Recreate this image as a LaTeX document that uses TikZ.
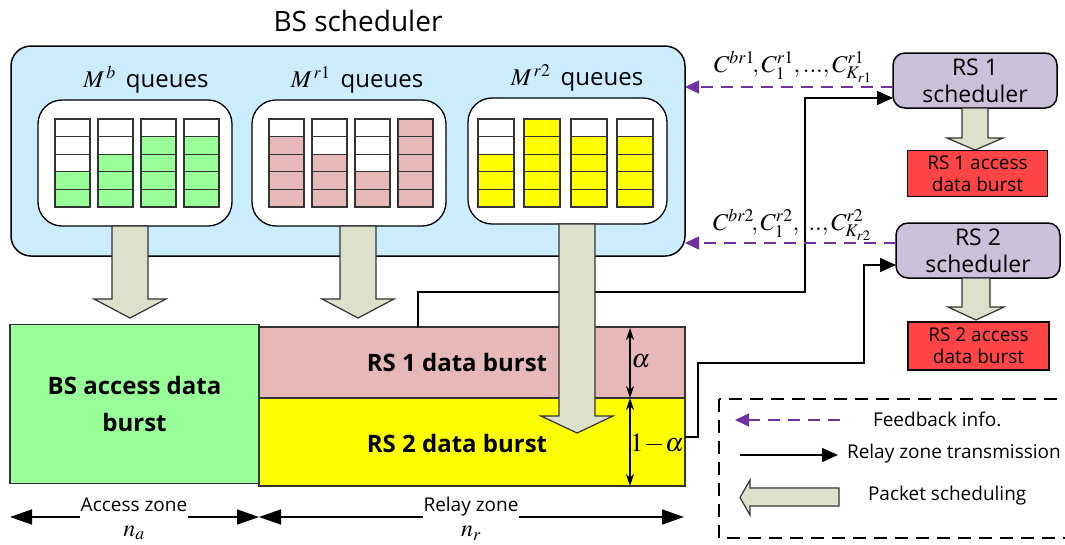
\documentclass[tikz,border=0pt]{standalone}
\usepackage{mathptmx}
\usepackage[no-math]{fontspec}
\setmainfont{Open Sans}
\usetikzlibrary{arrows.meta}
\definecolor{bsblue}{HTML}{CCECFF}
\definecolor{qgreen}{HTML}{99FF99}
\definecolor{qpink}{HTML}{E6B9B8}
\definecolor{qyellow}{HTML}{FFFF00}
\definecolor{lav}{HTML}{CCC1DA}
\definecolor{accred}{HTML}{FF4545}
\definecolor{pktfill}{HTML}{DDE1CB}
\definecolor{fbpurple}{HTML}{7030A0}
\newcommand{\fsz}[2]{\fontsize{#1pt}{#2pt}\selectfont}
\newcommand{\pktdown}[6]{\draw[pkt] ({#1-#2},#4) -- ({#1+#2},#4) -- ({#1+#2},#5) -- ({#1+#3},#5) -- (#1,#6) -- ({#1-#3},#5) -- ({#1-#2},#5) -- cycle;}
\begin{document}
\begin{tikzpicture}[x=1pt,y=-1pt,
  every node/.style={inner sep=0pt, outer sep=0pt},
  cell/.style={draw=black!80, line width=1.2pt},
  grp/.style={draw=black, line width=1.3pt, fill=white, rounded corners=24pt},
  pkt/.style={draw=black!80, line width=1.2pt, fill=pktfill},
  relay/.style={draw=black, line width=1.5pt, -{Triangle[length=16pt,width=14pt]}},
  fb/.style={draw=fbpurple, line width=1.5pt, dash pattern=on 12pt off 8pt, -{Triangle[length=14pt,width=13pt]}},
  burst/.style={draw=black!80, line width=1.3pt},
  sched/.style={draw=black, line width=1.5pt, fill=lav, rounded corners=12pt, minimum width=164pt, minimum height=55pt, align=center, font=\fsz{23}{27}},
  acc/.style={draw=black, line width=1.3pt, fill=accred, minimum width=140pt, minimum height=46pt, align=center, font=\fsz{19}{22}},
  zone/.style={line width=1.5pt, {Triangle[length=22pt,width=15pt]}-{Triangle[length=22pt,width=15pt]}},
  dimarr/.style={line width=1.2pt, {Stealth[length=12pt,width=8pt]}-{Stealth[length=12pt,width=8pt]}},
  lgd/.style={anchor=west, font=\fsz{19}{22}},
  zlab/.style={fill=white, inner xsep=1pt, inner ysep=8pt, anchor=base, font=\fsz{19}{22}},
]
\useasboundingbox (0,0) rectangle (1065,544);
% title and BS box
\node[font=\fsz{28}{32}] (title) at (358,21) {BS scheduler};
\node[draw, fill=bsblue, rounded corners=20pt, line width=1.5pt, minimum width=674pt, minimum height=210pt] (bs) at (348,151) {};
% queue groups
\node[grp, minimum width=194pt, minimum height=126pt] (g1) at (135,163) {};
\node[grp, minimum width=194pt, minimum height=126pt] (g2) at (349,163) {};
\node[grp, minimum width=199pt, minimum height=126pt] (g3) at (567.5,161) {};
\node[font=\fsz{24}{28}] (lb1) at (146,80) {$M^{\,b}$\, queues};
\node[font=\fsz{24}{28}] (lb2) at (357,80) {$M^{\,r1}$\, queues};
\node[font=\fsz{24}{28}] (lb3) at (577,78) {$M^{\,r2}$\, queues};
% queue cells
\foreach \cx/\n in {55/2,98/3,141/4,184/4}{
  \foreach \r in {0,...,4}{
    \ifnum\r<\n \def\cc{qgreen}\else\def\cc{white}\fi
    \draw[cell, fill=\cc] (\cx,{207-\r*17.6}) rectangle ++(35,-17.6);
  }}
\foreach \cx/\n in {269/4,312/3,355/2,398/5}{
  \foreach \r in {0,...,4}{
    \ifnum\r<\n \def\cc{qpink}\else\def\cc{white}\fi
    \draw[cell, fill=\cc] (\cx,{207-\r*17.6}) rectangle ++(35,-17.6);
  }}
\foreach \cx/\n in {478/3,524/5,571/4,617/4}{
  \foreach \r in {0,...,4}{
    \ifnum\r<\n \def\cc{qyellow}\else\def\cc{white}\fi
    \draw[cell, fill=\cc] (\cx,{207-\r*17.6}) rectangle ++(36,-17.6);
  }}
% RS schedulers and access bursts
\node[sched] (rs1) at (975,80.5) {RS 1\\scheduler};
\node[sched] (rs2) at (978,250.5) {RS 2\\scheduler};
\node[acc] (acc1) at (977.5,173.5) {RS 1 access\\data burst};
\node[acc, minimum width=141pt, minimum height=48pt] (acc2) at (978.5,346) {RS 2 access\\data burst};
\pktdown{975}{13}{28}{108}{138}{150}
\pktdown{976}{14}{28}{278}{307}{320}
% frame bursts
\node[burst, fill=qgreen, minimum width=249pt, minimum height=159pt, align=center, font=\bfseries\fsz{24}{37}] (bsacc) at (134.5,404) {BS access data\\burst};
\node[burst, fill=qpink, minimum width=426pt, minimum height=71pt] (rs1b) at (472,362.5) {};
\node[burst, fill=qyellow, minimum width=426pt, minimum height=88pt] (rs2b) at (472,442) {};
\node[font=\bfseries\fsz{24}{28}] (t1) at (457,362) {RS 1 data burst};
\node[font=\bfseries\fsz{24}{28}] (t2) at (457,443) {RS 2 data burst};
% relay lines
\coordinate (r1s) at (418,327);
\coordinate (r1y) at (0,98);
\coordinate (r2s) at (685,437);
\coordinate (r2y) at (0,265);
\draw[relay] (r1s) |- (805,292) |- (rs1.west |- r1y);
\draw[relay] (r2s) -- (698,437) |- (864,363) |- (rs2.west |- r2y);
% feedback
\coordinate (fb1y) at (0,87);
\coordinate (fb2y) at (0,243);
\draw[fb] (rs1.west |- fb1y) -- (bs.east |- fb1y);
\draw[fb] (rs2.west |- fb2y) -- (bs.east |- fb2y);
\node[anchor=base, font=\fsz{24}{28}] (c1) at (793,72) {$C^{br1}\!, C_1^{r1}, ..., C_{K_{r1}}^{r1}$};
\node[anchor=base, font=\fsz{24}{28}] (c2) at (792,230) {$C^{br2}\!, C_1^{r2}, ..., C_{K_{r2}}^{r2}$};
% packet scheduling arrows
\pktdown{130}{18}{36}{226}{299}{318}
\pktdown{358}{18}{36}{226}{299}{318}
\pktdown{577}{18}{36}{224}{416}{433}
% alpha
\coordinate (a0) at (630,328);
\coordinate (a1) at (630,398);
\coordinate (a2) at (630,486);
\draw[dimarr] (a0) -- (a1);
\draw[dimarr] (a1) -- (a2);
\node[font=\fsz{26}{30}] (al1) at (641,361) {$\alpha$};
\node[font=\fsz{26}{30}] (al2) at (657,444) {$1\!-\!\alpha$};
% zones
\coordinate (z0) at (10,517);
\coordinate (z1) at (259,517);
\coordinate (z2) at (684,517);
\draw[zone] (z0) -- (z1);
\draw[zone] (z1) -- (z2);
\node[zlab] (zl1) at (134,511) {Access zone};
\node[zlab] (zl2) at (471,511) {Relay zone};
\node[font=\fsz{24}{28}] (na) at (134,533) {$n_a$};
\node[font=\fsz{24}{28}] (nr) at (471,533) {$n_r$};
% legend
\draw[line width=1.5pt, dash pattern=on 13pt off 8pt] (719,399) rectangle (1085,538);
\coordinate (lf0) at (840,420);
\coordinate (lf1) at (735,420);
\draw[fb] (lf0) -- (lf1);
\node[lgd] (lt1) at (873,419) {Feedback info.};
\coordinate (lr0) at (740,455);
\coordinate (lr1) at (838,455);
\draw[relay] (lr0) -- (lr1);
\node[lgd] (lt2) at (847,454) {Relay zone transmission};
\draw[pkt] (839,488) -- (750,488) -- (750,480) -- (740,497.5) -- (750,515) -- (750,506) -- (839,506) -- cycle;
\node[lgd] (lt3) at (868,496) {Packet scheduling};
\end{tikzpicture}
\end{document}
